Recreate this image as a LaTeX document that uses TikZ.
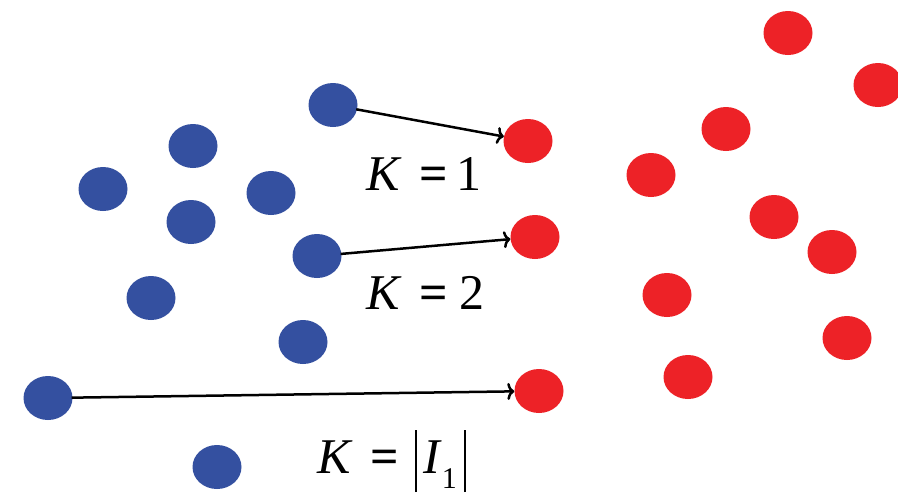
\documentclass[tikz,border=0pt]{standalone}
\usepackage{fontspec}
\setmainfont{Liberation Serif}
\usetikzlibrary{shapes.geometric,arrows.meta}
\definecolor{dotblue}{RGB}{52,80,160}
\definecolor{dotred}{RGB}{237,34,39}
\tikzset{
  dotbase/.style={ellipse, minimum width=49pt, minimum height=44pt, inner sep=0pt, draw=none},
  bdot/.style={dotbase, fill=dotblue},
  rdot/.style={dotbase, fill=dotred},
  arr/.style={line width=2.5pt, -{To[length=7pt,width=17pt]}, shorten <=-1pt},
  lab/.style={anchor=base west, inner sep=0pt, font=\fontsize{50}{60}\selectfont}
}
\newcommand{\absbar}{\rule[-19pt]{2pt}{62pt}}
\newcommand{\eqsign}{\textbf{=}}
\begin{document}
\begin{tikzpicture}[x=1pt,y=-1pt]
\useasboundingbox[fill=white] (0,0) rectangle (898,496);
% blue dots
\node[bdot] (b1) at (333,105) {};
\node[bdot] (b2) at (193,146) {};
\node[bdot] (b3) at (103,189) {};
\node[bdot] (b4) at (271,193) {};
\node[bdot] (b5) at (191,222) {};
\node[bdot] (b6) at (317,256) {};
\node[bdot] (b7) at (151,298) {};
\node[bdot] (b8) at (303,342) {};
\node[bdot] (b9) at (48,398) {};
\node[bdot] (b10) at (217,467) {};
% red dots
\node[rdot] (r1) at (788,33) {};
\node[rdot] (r2) at (878,85) {};
\node[rdot] (r3) at (726,129) {};
\node[rdot] (r4) at (528,141) {};
\node[rdot] (r5) at (651,175) {};
\node[rdot] (r6) at (774,217) {};
\node[rdot] (r7) at (535,237) {};
\node[rdot] (r8) at (832,252) {};
\node[rdot] (r9) at (667,295) {};
\node[rdot] (r10) at (847,338) {};
\node[rdot] (r11) at (539,391) {};
\node[rdot] (r12) at (688,377) {};
% arrows
\draw[arr] (b1) -- (r4);
\draw[arr] (b6) -- (r7);
\draw[arr] (b9) -- (r11);
% labels
\node[lab] (l1) at (366,190) {\textit{K}\hspace{18pt}\eqsign\hspace{8pt}1};
\node[lab] (l2) at (366,309) {\textit{K}\hspace{18pt}\eqsign\hspace{11pt}2};
\node[lab] (l3) at (317,473) {\textit{K}\hspace{18pt}\eqsign\hspace{16pt}\absbar\hspace{6pt}\textit{I}\raisebox{-15pt}{\fontsize{30}{36}\selectfont 1}\hspace{7pt}\absbar};
\end{tikzpicture}
\end{document}
